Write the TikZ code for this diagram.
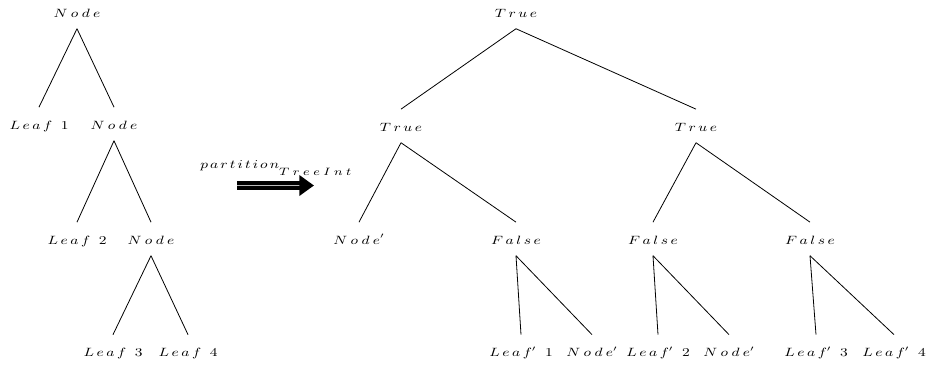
\documentclass[tikz,border=0pt]{standalone}
\usepackage{graphicx}
\usetikzlibrary{arrows.meta}
\newcommand\gp{\mkern3mu}
\newcommand\gq{\mkern4mu}
\newcommand\lbl[1]{\scalebox{1.25}[1]{$#1$}}
\newcommand\nd{N\gq o\gq d\gq e}
\newcommand\lf{L\gp e\gp a\gp f}
\begin{document}
\begin{tikzpicture}[x=0.75pt,y=-0.75pt,
  lab/.style={inner sep=0pt, anchor=base, text height=16.2pt, text depth=8.6pt, font=\fontsize{9}{11}\selectfont},
  edge/.style={line width=0.6pt},
  bigarrow/.style={double=gray!55, double distance=0.6pt, line width=3.3pt, -{Triangle[length=11pt,width=15pt]}}
]
\useasboundingbox (0,0) rectangle (929,365);
% left tree
\node[lab] (n1) at (77,17) {\lbl{\nd}};
\node[lab] (l1) at (39,129) {\lbl{\lf\mkern10mu 1}};
\node[lab] (n2) at (114,129) {\lbl{\nd}};
\node[lab] (l2) at (77,244) {\lbl{\lf\mkern10mu 2}};
\node[lab] (n3) at (151,244) {\lbl{\nd}};
\node[lab] (l3) at (113,356.5) {\lbl{\lf\mkern10mu 3}};
\node[lab] (l4) at (188,356.5) {\lbl{\lf\mkern10mu 4}};
\draw[edge] (n1.south) -- (l1.north);
\draw[edge] (n1.south) -- (n2.north);
\draw[edge] (n2.south) -- (l2.north);
\draw[edge] (n2.south) -- (n3.north);
\draw[edge] (n3.south) -- (l3.north);
\draw[edge] (n3.south) -- (l4.north);
% arrow
\node[anchor=base west, inner sep=0pt, font=\fontsize{9}{11}\selectfont] (pl) at (200,168)
  {\lbl{p\mkern2.5mu a\mkern2.5mu r\mkern2.5mu t\mkern2.5mu i\mkern2.5mu t\mkern2.5mu i\mkern2.5mu o\mkern2.5mu n}\raisebox{-5.5pt}{\footnotesize\lbl{T\mkern4.5mu r\mkern4.5mu e\mkern4.5mu e\mkern4.5mu I\mkern4.5mu n\mkern4.5mu t}}};
\coordinate (as) at (237,185.5);
\coordinate (ae) at (314,185.5);
\draw[bigarrow] (as) -- (ae);
% right tree
\node[lab] (r) at (516,17) {\lbl{T\gp r\gp u\gp e}};
\node[lab] (a) at (401,131) {\lbl{T\gp r\gp u\gp e}};
\node[lab] (b) at (696,131) {\lbl{T\gp r\gp u\gp e}};
\node[lab] (c) at (359,244) {\lbl{\nd'}};
\node[lab] (d) at (516,244) {\lbl{F\gp a\gp l\gp s\gp e}};
\node[lab] (e) at (653,244) {\lbl{F\gp a\gp l\gp s\gp e}};
\node[lab] (f) at (810,244) {\lbl{F\gp a\gp l\gp s\gp e}};
\node[lab] (g) at (521,356.5) {\lbl{\lf'\mkern10mu 1}};
\node[lab] (h) at (592,356.5) {\lbl{\nd'}};
\node[lab] (i) at (658,356.5) {\lbl{\lf'\mkern10mu 2}};
\node[lab] (j) at (729,356.5) {\lbl{\nd'}};
\node[lab] (k) at (816,356.5) {\lbl{\lf'\mkern10mu 3}};
\node[lab] (m) at (894,356.5) {\lbl{\lf'\mkern10mu 4}};
\draw[edge] (r.south) -- (a.north);
\draw[edge] (r.south) -- (b.north);
\draw[edge] (a.south) -- (c.north);
\draw[edge] (a.south) -- (d.north);
\draw[edge] (b.south) -- (e.north);
\draw[edge] (b.south) -- (f.north);
\draw[edge] (d.south) -- (g.north);
\draw[edge] (d.south) -- (h.north);
\draw[edge] (e.south) -- (i.north);
\draw[edge] (e.south) -- (j.north);
\draw[edge] (f.south) -- (k.north);
\draw[edge] (f.south) -- (m.north);
\end{tikzpicture}
\end{document}
